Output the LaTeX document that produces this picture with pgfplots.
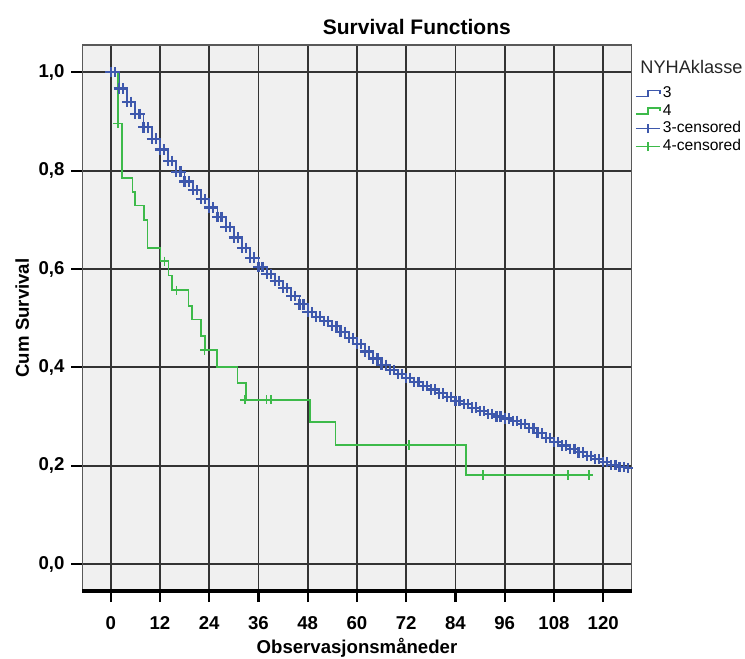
\documentclass[border=0pt]{standalone}
\usepackage{pgfplots}
\pgfplotsset{compat=1.18}
\usepackage{pgfplotstable}
\usepackage{fontspec}
\setmainfont{Liberation Sans}
\definecolor{spssblue}{HTML}{3E58AC}
\definecolor{spssgreen}{HTML}{3DBA4A}
\definecolor{panel}{HTML}{F0F0F0}

% NYHA class 3: survival (steps), censored marks at every point
\pgfplotstableread{
t s
0 1.000
1 1.000
2 0.967
3 0.967
4 0.940
5 0.940
6 0.915
7 0.915
8 0.888
9 0.888
10 0.865
11 0.865
12 0.843
13 0.843
14 0.820
15 0.820
16 0.798
17 0.798
18 0.778
19 0.778
20 0.760
21 0.760
22 0.742
23 0.742
24 0.725
25 0.725
26 0.706
27 0.706
28 0.685
29 0.685
30 0.664
31 0.664
32 0.643
33 0.643
34 0.623
35 0.623
36 0.604
37 0.604
38 0.590
39 0.590
40 0.576
41 0.576
42 0.561
43 0.561
44 0.545
45 0.545
46 0.528
47 0.528
48 0.512
49 0.512
50 0.503
51 0.503
52 0.494
53 0.494
54 0.484
55 0.484
56 0.472
57 0.472
58 0.460
59 0.460
60 0.447
61 0.447
62 0.432
63 0.432
64 0.418
65 0.418
66 0.405
67 0.405
68 0.395
69 0.395
70 0.386
71 0.386
72 0.378
73 0.378
74 0.370
75 0.370
76 0.362
77 0.362
78 0.355
79 0.355
80 0.347
81 0.347
82 0.340
83 0.340
84 0.332
85 0.332
86 0.325
87 0.325
88 0.318
89 0.318
90 0.311
91 0.311
92 0.305
93 0.305
94 0.300
95 0.300
96 0.296
97 0.296
98 0.291
99 0.291
100 0.285
101 0.285
102 0.276
103 0.276
104 0.266
105 0.266
106 0.256
107 0.256
108 0.248
109 0.248
110 0.241
111 0.241
112 0.234
113 0.234
114 0.227
115 0.227
116 0.220
117 0.220
118 0.213
119 0.213
120 0.207
121 0.207
122 0.201
123 0.201
124 0.197
125 0.197
126 0.195
}\nyhathree

% NYHA class 4: survival steps
\pgfplotstableread{
t s
0 1.000
1.8 0.896
2.8 0.785
5.3 0.756
5.9 0.729
8.1 0.699
9.0 0.643
12.1 0.616
14.1 0.587
15.0 0.557
19.0 0.525
19.8 0.497
22.0 0.464
23.0 0.435
25.9 0.401
30.9 0.368
32.9 0.334
48.6 0.289
54.8 0.242
86.6 0.181
117.6 0.181
}\nyhafour

% NYHA class 4: censored cases
\pgfplotstableread{
t s
1.8 0.896
13.1 0.616
16.0 0.557
22.9 0.435
32.7 0.334
38.0 0.334
39.0 0.334
72.7 0.242
90.7 0.181
111.5 0.181
116.5 0.181
}\nyhafourcens

\begin{document}
\begin{tikzpicture}
  \useasboundingbox (-41.25pt,-34pt) rectangle (331.25pt,295.5pt);
  \begin{axis}[
      at={(0,0)}, anchor=south west,
      scale only axis, width=274.5pt, height=273pt,
      xmin=-6.87, xmax=126.9, ymin=-0.0549, ymax=1.0555,
      xtick={0,12,...,120},
      ytick={0,0.2,...,1.0},
      axis background/.style={fill=panel},
      xmajorgrids, ymajorgrids,
      grid style={black!80, line width=0.9pt},
      axis line style={black!65, line width=0.9pt},
      tick align=outside,
      major tick length=5.5pt,
      every tick/.style={black, line width=1.1pt},
      xtick pos=left, ytick pos=left,
      /pgf/number format/assume math mode=true,
      yticklabel style={/pgf/number format/.cd, use comma, fixed, fixed zerofill, precision=1},
      xticklabel style={yshift=-3.5pt},
      tick label style={font=\bfseries\fontsize{9.3}{11}\selectfont},
      label style={font=\bfseries\fontsize{9.3}{11}\selectfont},
      title style={font=\bfseries\fontsize{10.5}{12}\selectfont, at={(0.609,1)}, anchor=south, yshift=-4.5pt},
      title={Survival Functions},
      xlabel={Observasjonsmåneder},
      ylabel={Cum Survival},
      xlabel style={at={(axis description cs:0.5,-0.104)}, anchor=center},
      ylabel style={at={(axis description cs:-0.110,0.5)}, anchor=center},
      clip=false,
      legend style={draw=none, fill=none, at={(1.006,0.9286)}, anchor=north west,
        font=\fontsize{7.8}{9}\selectfont, row sep=-0.6pt, inner sep=0pt,
        nodes={inner sep=1.2pt}},
      legend cell align=left,
    ]
    \addplot[const plot, spssblue, line width=0.9pt,
      legend image code/.code={\draw[spssblue, line width=0.7pt] (0pt,-1.5pt) -- (6pt,-1.5pt) -- (6pt,1.5pt) -- (12pt,1.5pt) -- (12pt,0pt);}]
      table[x=t, y=s] {\nyhathree};
    \addplot[const plot, spssgreen, line width=0.8pt,
      legend image code/.code={\draw[spssgreen, line width=0.7pt] (0pt,-1.5pt) -- (6pt,-1.5pt) -- (6pt,1.5pt) -- (12pt,1.5pt) -- (12pt,0pt);}]
      table[x=t, y=s] {\nyhafour};
    \addplot[only marks, mark=+, mark size=2.6pt, spssblue, mark options={line width=1.1pt},
      legend image code/.code={\draw[spssblue, line width=0.7pt] (0pt,0pt) -- (12pt,0pt); \draw[spssblue, line width=0.7pt] (6pt,-2.2pt) -- (6pt,2.2pt);}]
      table[x=t, y=s] {\nyhathree};
    \addplot[only marks, mark=+, mark size=2.3pt, spssgreen, mark options={line width=0.8pt},
      legend image code/.code={\draw[spssgreen, line width=0.7pt] (0pt,0pt) -- (12pt,0pt); \draw[spssgreen, line width=0.7pt] (6pt,-2.2pt) -- (6pt,2.2pt);}]
      table[x=t, y=s] {\nyhafourcens};
    \legend{3, 4, 3-censored, 4-censored}
    \draw[black, line width=1.7pt] (rel axis cs:0,0) -- (rel axis cs:1,0);
    \node[anchor=west, inner sep=0pt, font=\fontsize{9.1}{11}\selectfont, text=black!85]
      at (rel axis cs:1.0155,0.9597) {NYHAklasse};
  \end{axis}
\end{tikzpicture}
\end{document}
